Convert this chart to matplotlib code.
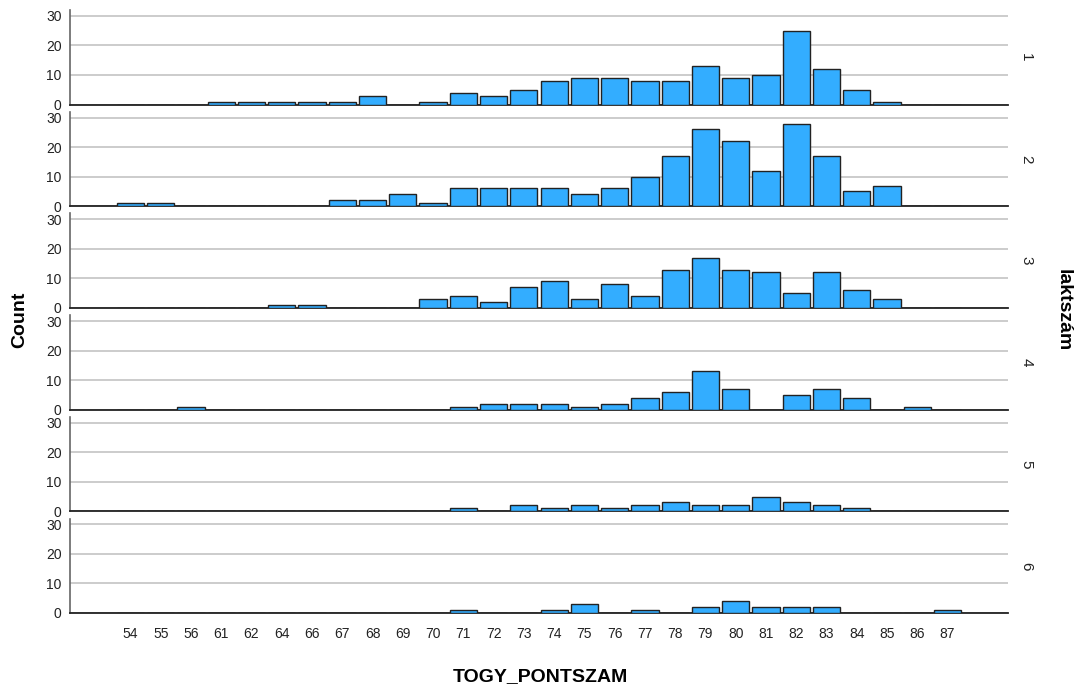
import matplotlib
matplotlib.use("Agg")
from matplotlib import pyplot as plt
import numpy as np

plt.rcParams['font.family'] = ['Liberation Sans Narrow', 'Liberation Sans', 'DejaVu Sans']

# TOGY_PONTSZAM categories
scores = ["54", "55", "56", "61", "62", "64", "66", "67", "68", "69", "70", "71", "72", "73",
          "74", "75", "76", "77", "78", "79", "80", "81", "82", "83", "84", "85", "86", "87"]

# counts per laktszám group
group_labels = ["1", "2", "3", "4", "5", "6"]
counts_1 = [0, 0, 0, 1, 1, 1, 1, 1, 3, 0, 1, 4, 3, 5, 8, 9, 9, 8, 8, 13, 9, 10, 25, 12, 5, 1, 0, 0]
counts_2 = [1, 1, 0, 0, 0, 0, 0, 2, 2, 4, 1, 6, 6, 6, 6, 4, 6, 10, 17, 26, 22, 12, 28, 17, 5, 7, 0, 0]
counts_3 = [0, 0, 0, 0, 0, 1, 1, 0, 0, 0, 3, 4, 2, 7, 9, 3, 8, 4, 13, 17, 13, 12, 5, 12, 6, 3, 0, 0]
counts_4 = [0, 0, 1, 0, 0, 0, 0, 0, 0, 0, 0, 1, 2, 2, 2, 1, 2, 4, 6, 13, 7, 0, 5, 7, 4, 0, 1, 0]
counts_5 = [0, 0, 0, 0, 0, 0, 0, 0, 0, 0, 0, 1, 0, 2, 1, 2, 1, 2, 3, 2, 2, 5, 3, 2, 1, 0, 0, 0]
counts_6 = [0, 0, 0, 0, 0, 0, 0, 0, 0, 0, 0, 1, 0, 0, 1, 3, 0, 1, 0, 2, 4, 2, 2, 2, 0, 0, 0, 1]
all_counts = [counts_1, counts_2, counts_3, counts_4, counts_5, counts_6]

W, H = 1078, 692
fig = plt.figure(figsize=(W / 100, H / 100), dpi=100)

left, right = 70, 1008
x = np.arange(len(scores))

axes = []
for i, (lab, cnt) in enumerate(zip(group_labels, all_counts)):
    bottom = 104.5 + 101.7 * i
    top = bottom - 94.5
    ax = fig.add_axes([left / W, 1 - bottom / H, (right - left) / W, (bottom - top) / H])
    ax.bar(x, cnt, width=0.9, color="#33adff", edgecolor="#222222", linewidth=1.0, zorder=3)
    ax.set_xlim(-2, 29)
    ax.set_ylim(0, 32)
    ax.set_yticks([0, 10, 20, 30])
    ax.yaxis.grid(True, color="#c8c8c8", linewidth=1.3, zorder=0)
    ax.set_axisbelow(True)
    for s in ["top", "right"]:
        ax.spines[s].set_visible(False)
    ax.spines["left"].set_color("#666666")
    ax.spines["left"].set_linewidth(1.2)
    ax.spines["bottom"].set_color("#222222")
    ax.spines["bottom"].set_linewidth(1.3)
    ax.tick_params(axis="y", length=0, pad=6, labelsize=10, labelcolor="#222222")
    ax.tick_params(axis="x", length=0)
    ax.set_xticks(x)
    if i < 5:
        ax.set_xticklabels([])
    else:
        ax.set_xticklabels(scores, fontsize=10, color="#222222")
        ax.tick_params(axis="x", pad=10)
    ax.text(1.012, 0.5, lab, transform=ax.transAxes, rotation=270,
            ha="left", va="center", fontsize=11, color="#222222")
    axes.append(ax)

fig.text(20 / W, 1 - 320 / H, "Count", rotation=90, ha="center", va="center",
         fontsize=14, fontweight="bold")
fig.text(1063 / W, 1 - 310 / H, "laktszám", rotation=270, ha="center", va="center",
         fontsize=14, fontweight="bold")
fig.text(540 / W, 1 - 677 / H, "TOGY_PONTSZAM", ha="center", va="center",
         fontsize=14, fontweight="bold")

fig.savefig("out.png", dpi=100)
